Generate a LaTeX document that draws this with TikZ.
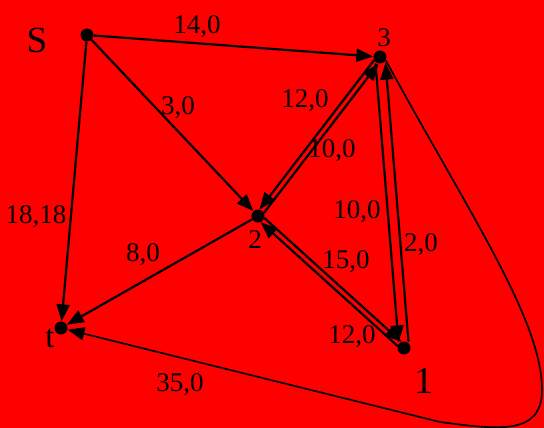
\documentclass[tikz,border=0pt]{standalone}
\usepackage{fontspec}
\setmainfont{Liberation Serif}
\usetikzlibrary{arrows.meta,calc}
\begin{document}
\begin{tikzpicture}[x=1pt,y=-1pt,
  vtx/.style={circle,fill=black,inner sep=0pt,minimum size=13pt},
  edge/.style={line width=2.2pt,-{Triangle[length=17pt,width=13pt]}},
  pedge/.style={edge,shorten >=6pt,shorten <=6pt},
  curveedge/.style={line width=1.7pt,-{Triangle[length=17pt,width=13pt]}},
  lbl/.style={inner sep=0pt,font=\fontsize{27}{27}\selectfont},
  biglbl/.style={inner sep=0pt,font=\fontsize{37}{37}\selectfont}]
\fill[red] (0,0) rectangle (544,428);
\useasboundingbox (0,0) rectangle (544,428);
% vertices
\node[vtx] (s) at (87,35) {};
\node[vtx] (n3) at (380,57) {};
\node[vtx] (n2) at (258,216) {};
\node[vtx] (t) at (61,328) {};
\node[vtx] (n1) at (404,348) {};
% vertex labels
\node[biglbl] (ls) at (37,40) {S};
\node[lbl] (l3) at (384,38) {3};
\node[lbl] (l2) at (255,240) {2};
\node[biglbl,font=\fontsize{33}{33}\selectfont] (lt) at (50,338) {t};
\node[biglbl,font=\fontsize{38}{38}\selectfont] (l1) at (424,381) {1};
% single edges
\draw[edge] (s) -- (n3);
\draw[edge] (s) -- (n2);
\draw[edge] (s) -- (t);
\draw[edge] (n2) -- (t);
% pair 2-3
\draw[pedge] ($(n2)!2.8pt!-90:(n3)$) -- ($(n3)!2.8pt!90:(n2)$);
\draw[pedge] ($(n3)!2.8pt!-90:(n2)$) -- ($(n2)!2.8pt!90:(n3)$);
% pair 2-1
\draw[pedge] ($(n2)!2.8pt!90:(n1)$) -- ($(n1)!2.8pt!-90:(n2)$);
\draw[pedge] ($(n1)!2.8pt!90:(n2)$) -- ($(n2)!2.8pt!-90:(n1)$);
% pair 3-1
\draw[pedge] ($(n3)!5pt!-90:(n1)$) -- ($(n1)!5pt!90:(n3)$);
\draw[pedge] ($(n1)!5pt!-90:(n3)$) -- ($(n3)!5pt!90:(n1)$);
% curved edge 3 -> t
\coordinate (c1) at (542,390);
\coordinate (c2) at (440,422);
\draw[curveedge] (n3.-30) .. controls (470,215) and (542,320) .. (c1)
  .. controls (542,435) and (500,430) .. (c2) -- (t);
% edge labels
\node[lbl] (e1) at (197,27) {14,0};
\node[lbl] (e2) at (178,108) {3,0};
\node[lbl] (e3) at (305,101) {12,0};
\node[lbl] (e4) at (332,151) {10,0};
\node[lbl] (e5) at (36,217) {18,18};
\node[lbl] (e6) at (357,212) {10,0};
\node[lbl] (e7) at (421,245) {2,0};
\node[lbl] (e8) at (143,255) {8,0};
\node[lbl] (e9) at (346,262) {15,0};
\node[lbl] (e10) at (352,337) {12,0};
\node[lbl] (e11) at (180,385) {35,0};
\end{tikzpicture}
\end{document}
